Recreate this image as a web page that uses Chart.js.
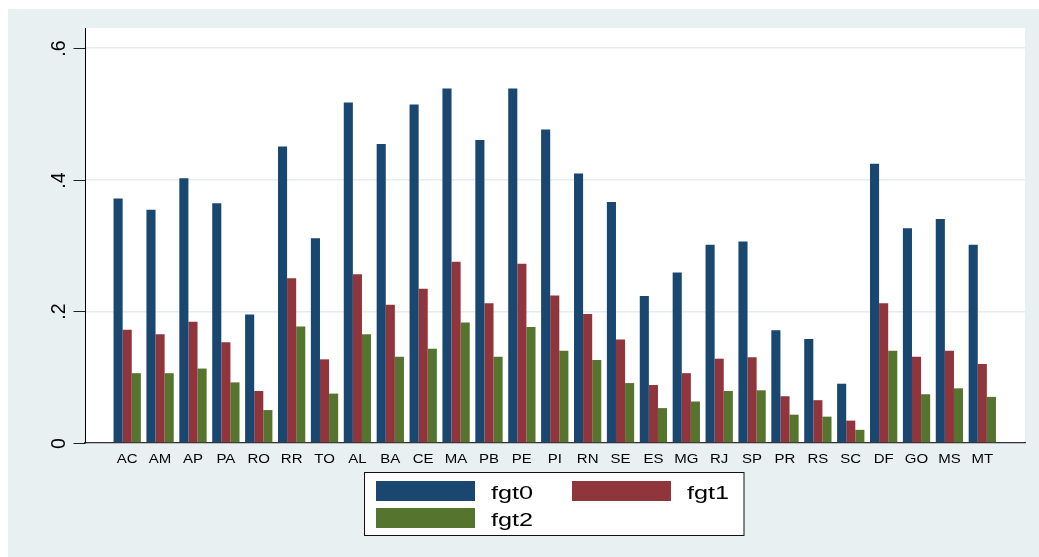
<!DOCTYPE html>
<html>
<head>
<meta charset="utf-8">
<script src="https://cdn.jsdelivr.net/npm/chart.js@4.4.1/dist/chart.umd.min.js"></script>
<style>
  html, body { margin: 0; padding: 0; background: #ffffff; }
  #wrap { position: relative; width: 1039px; height: 557px; }
  canvas { display: block; }
</style>
</head>
<body>
<div id="wrap"><canvas id="c" width="1039" height="557"></canvas></div>
<script>
// Brazilian states, in display order
const states = ['AC', 'AM', 'AP', 'PA', 'RO', 'RR', 'TO', 'AL', 'BA', 'CE', 'MA', 'PB', 'PE', 'PI',
                'RN', 'SE', 'ES', 'MG', 'RJ', 'SP', 'PR', 'RS', 'SC', 'DF', 'GO', 'MS', 'MT'];

// FGT poverty measures per state
const fgt0 = [0.371, 0.354, 0.402, 0.364, 0.195, 0.450, 0.311, 0.517, 0.454, 0.514, 0.538, 0.460, 0.538, 0.476,
              0.409, 0.366, 0.223, 0.259, 0.301, 0.306, 0.171, 0.158, 0.090, 0.424, 0.326, 0.340, 0.301];
const fgt1 = [0.172, 0.165, 0.184, 0.153, 0.079, 0.250, 0.127, 0.256, 0.210, 0.234, 0.275, 0.212, 0.272, 0.224,
              0.196, 0.157, 0.088, 0.106, 0.128, 0.130, 0.071, 0.065, 0.034, 0.212, 0.131, 0.140, 0.120];
const fgt2 = [0.106, 0.106, 0.113, 0.092, 0.050, 0.177, 0.075, 0.165, 0.131, 0.143, 0.183, 0.131, 0.176, 0.140,
              0.126, 0.091, 0.053, 0.063, 0.079, 0.080, 0.043, 0.040, 0.020, 0.140, 0.074, 0.083, 0.070];

const seriesNames = ['fgt0', 'fgt1', 'fgt2'];
const seriesColors = ['#1a476f', '#90353b', '#55752f'];

const yTicks = [0, 0.2, 0.4, 0.6];
const yTickLabels = ['0', '.2', '.4', '.6'];

const FONT = '"Liberation Sans", Arial, Helvetica, sans-serif';
const PAGE_BG = '#e8f0f2';

const toPoints = arr => arr.map((v, i) => ({ x: i, y: v }));

// Backgrounds: outer graph region and white plot region
const backdrop = {
  id: 'backdrop',
  beforeDraw(chart) {
    const { ctx, chartArea: a, width, height } = chart;
    ctx.save();
    ctx.fillStyle = '#ffffff';
    ctx.fillRect(0, 0, width, height);
    ctx.fillStyle = PAGE_BG;
    ctx.fillRect(8, 9, width - 8, height - 9);
    ctx.fillStyle = '#ffffff';
    ctx.fillRect(a.left, a.top, a.right - a.left, a.bottom - a.top);
    ctx.restore();
  }
};

// Axis labels, tick marks and the legend box
const annotations = {
  id: 'annotations',
  afterDraw(chart) {
    const { ctx, scales } = chart;
    const xs = scales.x, ys = scales.y;
    ctx.save();

    // y-axis tick marks and rotated labels
    ctx.strokeStyle = '#222';
    ctx.lineWidth = 1;
    ctx.fillStyle = '#000';
    ctx.font = '19.5px ' + FONT;
    ctx.textAlign = 'center';
    ctx.textBaseline = 'alphabetic';
    yTicks.forEach((v, i) => {
      const py = Math.round(ys.getPixelForValue(v)) + 0.5;
      ctx.beginPath();
      ctx.moveTo(73.5, py);
      ctx.lineTo(85, py);
      ctx.stroke();
      ctx.save();
      ctx.translate(65, py);
      ctx.rotate(-Math.PI / 2);
      ctx.fillText(yTickLabels[i], 0, 0);
      ctx.restore();
    });

    // category labels under the bars
    ctx.font = '12px ' + FONT;
    states.forEach((s, i) => {
      const px = xs.getPixelForValue(i);
      ctx.save();
      ctx.translate(px, 462.5);
      ctx.scale(1.25, 1);
      ctx.fillText(s, 0, 0);
      ctx.restore();
    });

    // legend
    ctx.fillStyle = '#ffffff';
    ctx.fillRect(364.5, 472.5, 379.5, 63);
    ctx.strokeStyle = '#111';
    ctx.lineWidth = 1;
    ctx.strokeRect(364.5, 472.5, 379.5, 63);
    const colX = [376, 572];
    const rowY = [481, 508];
    ctx.font = '19px ' + FONT;
    ctx.textAlign = 'left';
    chart.data.datasets.forEach((ds, i) => {
      const x0 = colX[i % 2], y0 = rowY[Math.floor(i / 2)];
      ctx.fillStyle = ds.backgroundColor;
      ctx.fillRect(x0, y0, 99, 20);
      ctx.fillStyle = '#000';
      ctx.save();
      ctx.translate(x0 + 115, y0 + 17.5);
      ctx.scale(1.33, 1);
      ctx.fillText(ds.label, 0, 0);
      ctx.restore();
    });

    ctx.restore();
  }
};

new Chart(document.getElementById('c'), {
  type: 'bar',
  data: {
    datasets: [
      { label: seriesNames[0], data: toPoints(fgt0), backgroundColor: seriesColors[0] },
      { label: seriesNames[1], data: toPoints(fgt1), backgroundColor: seriesColors[1] },
      { label: seriesNames[2], data: toPoints(fgt2), backgroundColor: seriesColors[2] }
    ]
  },
  options: {
    responsive: false,
    animation: false,
    devicePixelRatio: 1,
    layout: { padding: { left: 85, top: 28, right: 14, bottom: 114 } },
    datasets: { bar: { categoryPercentage: 0.83, barPercentage: 1.0, borderWidth: 0 } },
    plugins: {
      legend: { display: false },
      tooltip: { enabled: false },
      title: { display: false }
    },
    scales: {
      x: {
        type: 'linear',
        offset: false,
        min: -1.283,
        max: 27.298,
        grid: { display: false, offset: false },
        ticks: { display: false },
        border: { display: true, color: '#333', width: 1.3 },
        afterFit(s) { s.height = 0; }
      },
      y: {
        type: 'linear',
        min: 0,
        max: 0.63,
        afterBuildTicks(s) { s.ticks = yTicks.map(v => ({ value: v })); },
        grid: { color: '#e4ecef', lineWidth: 1.5, drawTicks: false },
        ticks: { display: false },
        border: { display: true, color: '#000', width: 1 },
        afterFit(s) { s.width = 0; }
      }
    }
  },
  plugins: [backdrop, annotations]
});
</script>
</body>
</html>
